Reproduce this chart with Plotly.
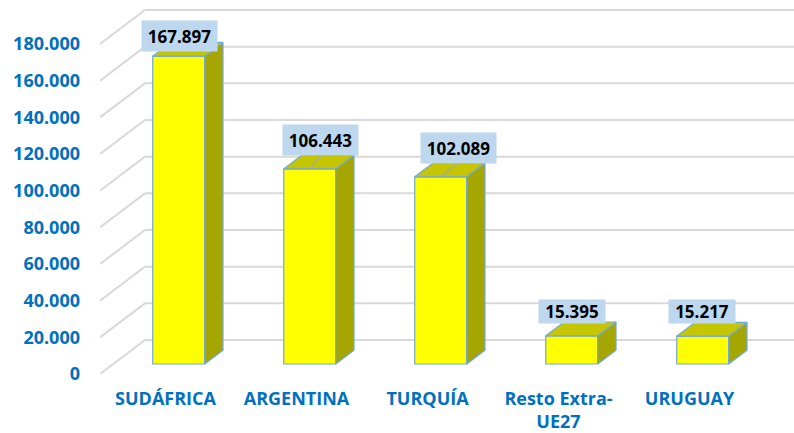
import plotly.graph_objects as go

# ---- data -------------------------------------------------------------
categories = ["SUDÁFRICA", "ARGENTINA", "TURQUÍA", "Resto Extra-<br>UE27", "URUGUAY"]
values = [167897, 106443, 102089, 15395, 15217]
value_labels = ["167.897", "106.443", "102.089", "15.395", "15.217"]
y_tick_vals = [0, 20000, 40000, 60000, 80000, 100000, 120000, 140000, 160000, 180000]
y_tick_text = ["0", "20.000", "40.000", "60.000", "80.000", "100.000",
               "120.000", "140.000", "160.000", "180.000"]

# ---- styling / pseudo-3D geometry -------------------------------------
W, H = 794, 433
M_L, M_B = 100, 59
X_PER_PX = 1 / 131.0              # category units per pixel
Y_PER_PX = 180000 / 330.0         # value units per pixel
DEPTH_DX = 45 * X_PER_PX          # floor depth (right)
DEPTH_DY = 34 * Y_PER_PX          # floor depth (up)
F_FRONT, F_BACK = 0.294, 0.70     # bar front/back position inside the depth
BAR_W = 52 * X_PER_PX

FRONT = "#FFFF00"
TOP = "#C6C600"
SIDE = "#A6A600"
EDGE = "#6FA8DC"
GRID = "#D9D9D9"
BLUE = "#0070C0"
FONT = "Open Sans"

# label nudges in pixels (right, up) from the front-top centre of each bar
label_nudge_px = [(0.5, 20), (11, 28.5), (17.5, 29), (0, 24.5), (-1, 24.5)]
label_box_h = [30, 30, 30, 23, 23]
leader_line = [False, True, True, False, False]

x_lo = -0.5
x_hi = x_lo + (W - M_L) * X_PER_PX
y_hi = (H - M_B) * Y_PER_PX

idx = list(range(len(categories)))
bx = [i + F_FRONT * DEPTH_DX for i in idx]       # front-face centres
base = F_FRONT * DEPTH_DY
ddx = (F_BACK - F_FRONT) * DEPTH_DX
ddy = (F_BACK - F_FRONT) * DEPTH_DY

fig = go.Figure()

# front faces
fig.add_trace(go.Bar(
    x=bx, y=values, base=[base] * len(values), width=BAR_W,
    marker=dict(color=FRONT, line=dict(color=EDGE, width=1.2)),
    hoverinfo="skip", showlegend=False,
))

# side and top faces
for cx, v in zip(bx, values):
    xl, xr = cx - BAR_W / 2, cx + BAR_W / 2
    yb, yt = base, base + v
    fig.add_trace(go.Scatter(
        x=[xr, xr, xr + ddx, xr + ddx, xr], y=[yb, yt, yt + ddy, yb + ddy, yb],
        fill="toself", fillcolor=SIDE, mode="lines",
        line=dict(color=EDGE, width=1.2), hoverinfo="skip", showlegend=False,
    ))
    fig.add_trace(go.Scatter(
        x=[xl, xr, xr + ddx, xl + ddx, xl], y=[yt, yt, yt + ddy, yt + ddy, yt],
        fill="toself", fillcolor=TOP, mode="lines",
        line=dict(color=EDGE, width=1.2), hoverinfo="skip", showlegend=False,
    ))

shapes = []
# back wall gridlines and side wall diagonals
for v in y_tick_vals:
    shapes.append(dict(type="line", xref="x", yref="y", layer="below",
                       x0=x_lo + DEPTH_DX, x1=x_hi, y0=v + DEPTH_DY, y1=v + DEPTH_DY,
                       line=dict(color=GRID, width=2)))
    shapes.append(dict(type="line", xref="x", yref="y", layer="below",
                       x0=x_lo, x1=x_lo + DEPTH_DX, y0=v, y1=v + DEPTH_DY,
                       line=dict(color=GRID, width=2)))

annotations = []
for cx, v, txt, (nx, ny), bh, lead in zip(bx, values, value_labels,
                                          label_nudge_px, label_box_h, leader_line):
    lx = cx + nx * X_PER_PX
    ly = base + v + ny * Y_PER_PX
    annotations.append(dict(
        x=lx, y=ly, xref="x", yref="y", text=txt, showarrow=False,
        xanchor="center", yanchor="middle",
        font=dict(family=FONT, size=17, color="#000000", weight="bold"),
        bgcolor="#BDD7EE", width=9 * len(txt) + 12, height=bh, borderpad=0,
    ))
    if lead:
        shapes.append(dict(type="line", xref="x", yref="y", layer="above",
                           x0=lx, y0=ly - bh / 2 * Y_PER_PX, x1=cx, y1=base + v,
                           line=dict(color="#A6A6A6", width=1.2)))

fig.update_layout(
    width=W, height=H,
    margin=dict(l=M_L, r=0, t=0, b=M_B),
    paper_bgcolor="white", plot_bgcolor="white",
    shapes=shapes, annotations=annotations,
    xaxis=dict(range=[x_lo, x_hi], tickvals=idx, ticktext=categories,
               showgrid=False, zeroline=False, showline=False, ticks="",
               ticklabelstandoff=12, automargin=False,
               tickfont=dict(family=FONT, size=18, color=BLUE, weight="bold")),
    yaxis=dict(range=[0, y_hi], tickvals=y_tick_vals, ticktext=y_tick_text,
               showgrid=False, zeroline=False, showline=False, ticks="",
               ticklabelstandoff=19, automargin=False,
               tickfont=dict(family=FONT, size=18, color=BLUE, weight="bold")),
)

fig.write_html("out.html")
